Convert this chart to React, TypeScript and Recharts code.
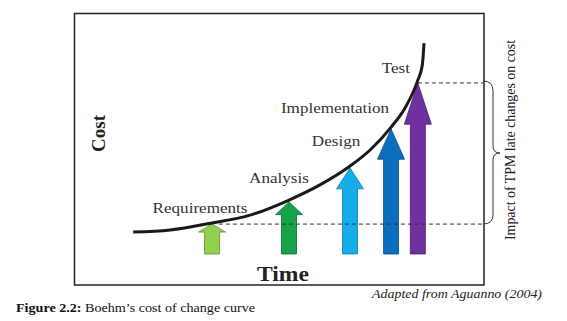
import React from "react";
import {
  ComposedChart,
  Bar,
  Line,
  XAxis,
  YAxis,
  ReferenceLine,
} from "recharts";

// project phases and where each change arrow sits (time, cost at the arrow tip)
const phases = ["Requirements", "Analysis", "Design", "Implementation", "Test"];
const phaseTime = [26.0, 48.7, 66.7, 78.8, 86.7];
const phaseCost = [13.1, 22.5, 36.9, 53.4, 72.9];

// points read along Boehm's cost of change curve
const curveTime = [2.7, 13.6, 26.0, 37.2, 48.7, 57.8, 66.7, 72.6, 78.8, 82.9, 86.7, 88.0, 88.5];
const curveCost = [9.7, 10.6, 13.6, 16.9, 23.3, 29.7, 37.7, 44.5, 54.2, 62.3, 74.2, 80.5, 89.8];

const arrowData = phases.map((name, i) => ({ name, time: phaseTime[i], cost: phaseCost[i] }));
const curveData = curveTime.map((t, i) => ({ time: t, cost: curveCost[i] }));

const ARROW_COLORS = ["#92D050", "#17A34A", "#14AEEA", "#0A6DBE", "#7030A0"];
const ARROW_STROKES = ["#5E8F2A", "#0D6B30", "#0B7BA8", "#064A85", "#4A1F6C"];
// label offset from the arrow tip (dx = centre, dy = baseline)
const LABEL_OFFSETS = [
  [-12, -11],
  [-10, -19],
  [-14, -22],
  [-56, -16],
  [-22, -10],
];

const SERIF = "'Liberation Serif', 'Times New Roman', serif";

function Arrow(props: any) {
  const { x, y, width, height, index } = props;
  const cx = x + width / 2;
  const top = y;
  const bottom = y + height - 1;
  const head = Math.max(8, height * 0.24);
  const half = 13.5;
  const bodyHalf = 7.5;
  const pts = [
    [cx, top],
    [cx + half, top + head],
    [cx + bodyHalf, top + head],
    [cx + bodyHalf, bottom],
    [cx - bodyHalf, bottom],
    [cx - bodyHalf, top + head],
    [cx - half, top + head],
  ]
    .map((p) => p.join(","))
    .join(" ");
  const [dx, dy] = LABEL_OFFSETS[index];
  return (
    <g>
      <polygon
        points={pts}
        fill={ARROW_COLORS[index]}
        stroke={ARROW_STROKES[index]}
        strokeWidth={0.8}
        strokeLinejoin="miter"
      />
      <text
        transform={`translate(${cx + dx},${top + dy}) scale(1.14,1)`}
        textAnchor="middle"
        fontFamily={SERIF}
        fontSize={15}
        fill="#333"
      >
        {phases[index]}
      </text>
    </g>
  );
}

export default function App() {
  return (
    <div style={{ position: "absolute", left: 0, top: 0, width: 567, height: 321, background: "#fff" }}>
      <ComposedChart
        width={567}
        height={321}
        data={arrowData}
        margin={{ top: 19, right: 104, bottom: 66, left: 124 }}
      >
        <XAxis
          type="number"
          dataKey="time"
          domain={[0, 100]}
          height={0}
          tick={false}
          tickLine={false}
          axisLine={{ stroke: "#444", strokeWidth: 2 }}
        />
        <YAxis
          type="number"
          domain={[0, 100]}
          width={0}
          tick={false}
          tickLine={false}
          axisLine={{ stroke: "#444", strokeWidth: 2 }}
        />
        <ReferenceLine
          segment={[
            { x: phaseTime[0] + 2, y: phaseCost[0] },
            { x: 105.9, y: phaseCost[0] },
          ]}
          stroke="#333"
          strokeDasharray="4 3"
          ifOverflow="visible"
        />
        <ReferenceLine
          segment={[
            { x: phaseTime[4], y: phaseCost[4] },
            { x: 105.9, y: phaseCost[4] },
          ]}
          stroke="#333"
          strokeDasharray="4 3"
          ifOverflow="visible"
        />
        <Bar dataKey="cost" barSize={27} shape={<Arrow />} isAnimationActive={false} />
        <Line
          data={curveData}
          dataKey="cost"
          type="monotone"
          stroke="#1a1a1a"
          strokeWidth={3}
          dot={false}
          activeDot={false}
          isAnimationActive={false}
        />
      </ComposedChart>
      <svg
        width={567}
        height={321}
        style={{ position: "absolute", left: 0, top: 0, pointerEvents: "none" }}
      >
        <rect x={74.5} y={13.5} width={409.5} height={271.5} fill="none" stroke="#222" strokeWidth={1.5} />
        <path
          d="M483,81 Q493,81 493,91 L493,146 Q493,153 500,153 Q493,153 493,160 L493,215 Q493,224 483,224"
          fill="none"
          stroke="#333"
          strokeWidth={1}
        />
        <text
          transform="translate(515,140) rotate(-90)"
          textAnchor="middle"
          fontFamily={SERIF}
          fontSize={14}
          textLength={200}
          lengthAdjust="spacingAndGlyphs"
          fill="#222"
        >
          Impact of TPM late changes on cost
        </text>
        <text
          transform="translate(105,133.5) rotate(-90)"
          textAnchor="middle"
          fontFamily={SERIF}
          fontSize={19}
          fontWeight="bold"
          fill="#222"
        >
          Cost
        </text>
        <text
          x={283}
          y={281}
          textAnchor="middle"
          fontFamily={SERIF}
          fontSize={21}
          fontWeight="bold"
          textLength={52}
          lengthAdjust="spacingAndGlyphs"
          fill="#222"
        >
          Time
        </text>
        <text
          x={372}
          y={298}
          fontFamily={SERIF}
          fontSize={13}
          fontStyle="italic"
          textLength={170}
          lengthAdjust="spacingAndGlyphs"
          fill="#222"
        >
          Adapted from Aguanno (2004)
        </text>
        <text
          x={16}
          y={312}
          fontFamily={SERIF}
          fontSize={12}
          textLength={239}
          lengthAdjust="spacingAndGlyphs"
          fill="#111"
        >
          <tspan fontWeight="bold">Figure 2.2:</tspan> Boehm’s cost of change curve
        </text>
      </svg>
    </div>
  );
}
